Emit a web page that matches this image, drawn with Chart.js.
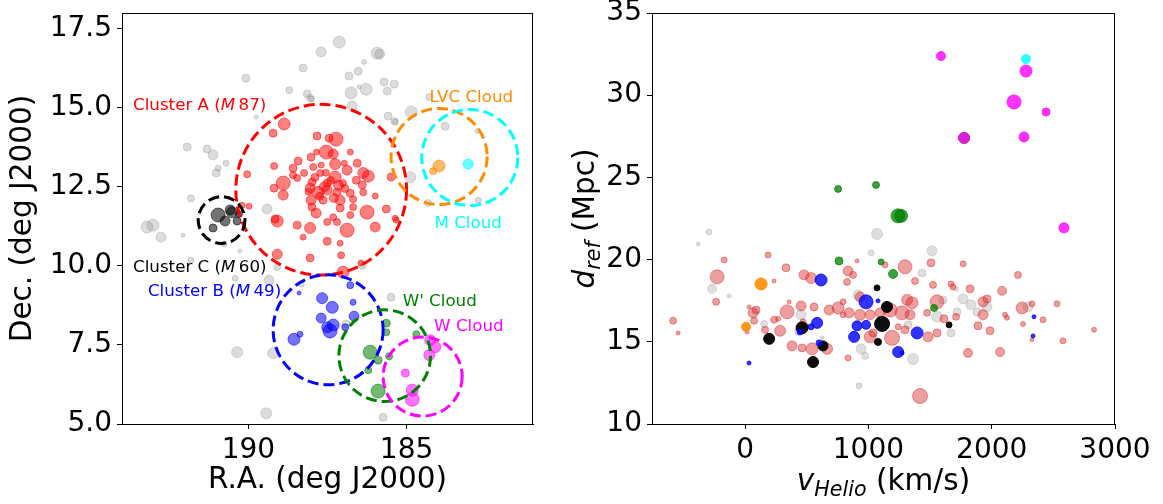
<!DOCTYPE html>
<html>
<head>
<meta charset="utf-8">
<script src="https://cdn.jsdelivr.net/npm/chart.js@4.4.1/dist/chart.umd.min.js"></script>
<style>
  html, body { margin: 0; padding: 0; background: #fff; }
  #wrap { position: relative; width: 1163px; height: 504px; }
  #sky { position: absolute; left: 0; top: 0; }
  #vel { position: absolute; left: 560px; top: 0; }
</style>
</head>
<body>
<div id="wrap">
  <canvas id="sky" width="560" height="504"></canvas>
  <canvas id="vel" width="603" height="504"></canvas>
</div>
<script>
// ---- sky positions: [R.A., Dec., marker size] ----
const bgSky = [
  [187.13,17.08,6],[187.70,16.77,5],[185.93,16.73,6],[185.85,16.70,5],[186.34,16.45,2.5],
  [188.27,16.26,4],[186.53,16.16,4],[186.82,16.01,4],[190.08,15.94,4],[185.71,15.82,4],
  [185.39,15.75,4],[186.28,15.59,6],[185.61,15.53,4],[186.50,15.66,2],[188.71,15.56,3.5],
  [186.75,15.47,6],[188.14,15.44,4],[188.05,15.31,3.5],[188.00,15.28,3],[184.28,15.34,3.5],
  [186.72,15.06,5],[189.76,14.71,2],[184.85,14.87,6],[185.58,14.74,4],[185.39,14.58,3.5],
  [185.35,14.55,3],[183.78,14.42,4],[182.76,14.27,2.5],[191.94,13.76,4],[191.31,13.70,4],
  [191.12,13.51,5],[190.71,13.25,3],[190.96,13.09,3],[191.02,12.94,4],[184.88,12.81,5.5],
  [191.82,12.14,3.5],[189.41,11.80,5],[184.32,11.99,3.5],[182.73,12.08,3],[193.21,11.23,6],
  [193.02,11.29,6],[192.77,10.91,5],[192.07,10.97,2],[191.82,10.18,3],[190.27,10.47,2],
  [190.42,9.61,3],[189.35,9.55,5],[189.09,9.96,3.5],[188.33,9.42,3],[186.40,10.02,4],
  [185.49,9.01,4],[190.36,7.27,5.5],[189.22,7.24,5.5],[186.91,8.16,4],[189.44,5.34,5.5],
  [185.74,5.21,4],[190.77,10.69,3]
];
const clusterASky = [
  [188.87,14.49,6],[189.22,14.20,4],[187.83,14.11,4],[187.45,14.04,4],[187.23,14.01,7],
  [187.54,13.60,7],[187.32,13.54,5],[186.78,13.60,3],[188.02,13.44,4],[188.43,13.32,4],
  [187.26,13.22,5.5],[186.97,13.25,3],[186.56,13.25,4],[189.19,13.16,3.5],[188.59,13.09,4],
  [187.95,13.13,3.5],[187.70,13.19,3],[186.88,13.03,5],[186.37,12.94,5.5],[186.21,12.84,6],
  [188.59,12.87,3.5],[188.24,12.94,3.5],[187.73,12.94,3.5],[187.26,12.81,6],[186.59,12.71,4],
  [190.04,12.90,3.5],[188.90,12.62,7],[188.46,12.78,3.5],[187.99,12.65,4],[187.51,12.62,4],
  [187.01,12.62,3.5],[186.40,12.56,4],[185.49,12.81,4],[189.19,12.46,4],[188.05,12.46,5],
  [187.80,12.33,6],[187.51,12.40,5],[187.20,12.33,4],[186.78,12.30,4],[186.37,12.33,3.5],
  [188.90,12.24,5],[185.99,12.21,3],[188.02,12.08,5],[187.64,12.08,4],[187.10,12.08,5],
  [186.69,12.11,3.5],[190.20,11.92,3],[187.99,11.86,4],[187.10,11.83,4],[186.69,11.86,3.5],
  [186.25,11.70,7],[185.64,11.80,4],[187.86,11.67,5],[187.32,11.54,3.5],[186.78,11.61,3.5],
  [189.16,11.48,4],[185.36,11.51,3],[189.09,11.42,6],[188.46,11.29,4],[188.05,11.20,5.5],
  [188.27,10.91,3],[187.51,11.39,3.5],[186.88,11.13,7],[187.20,11.39,3.5],[185.99,11.23,5],
  [187.51,10.78,4],[187.10,10.72,3],[189.09,10.37,5],[188.05,10.25,4],[187.07,10.34,3.5],
  [187.01,9.80,6],[186.44,10.09,3],[185.33,11.45,3],[189.98,11.89,3],
  [187.60,12.50,5],[187.40,12.70,4],[187.90,12.80,4],[187.15,12.55,5],[187.75,12.20,4],
  [187.30,12.15,4.5],[187.55,12.95,3.5],[188.10,12.35,3.5],[186.95,12.45,4],[187.85,13.60,3]
];
const clusterCSky = [
  [190.96,11.61,7],[190.52,11.70,5.5],[190.74,11.42,5],[191.12,11.20,4],[190.36,11.42,4],
  [190.30,11.64,3.5],[190.58,11.77,5]
];
const clusterBSky = [
  [188.40,9.14,2],[187.67,8.98,5.5],[187.35,8.69,6],[186.78,9.39,3.5],[186.69,8.85,3],
  [187.70,8.35,5],[187.32,8.13,6],[187.42,7.94,7],[187.51,8.06,5.5],[186.66,8.41,5],
  [186.94,8.06,3.5],[188.56,7.68,6],[188.37,7.84,3]
];
const wPrimeSky = [
  [185.64,8.19,4],[185.64,7.90,3.5],[186.15,7.27,7],[185.90,7.02,4],[185.55,7.14,3.5],
  [186.21,6.70,3.5],[185.90,6.04,7],[184.69,7.84,3.5]
];
const wCloudSky = [
  [184.25,7.65,5.5],[184.09,7.43,5.5],[184.28,7.18,5.5],[185.04,6.61,4],[184.82,6.07,6],
  [184.82,5.78,7]
];
const lvcSky = [[183.97,13.16,6],[184.16,13.00,3.5]];
const mCloudSky = [[183.05,13.22,5]];

// ---- velocity vs distance: [v_Helio km/s, d_ref Mpc, marker size] ----
const bgVel = [
  [1070,21.56,5.5],[-292,21.68,3],[-381,20.95,2],[1516,20.53,5],[1022,20.41,3],[1435,19.19,4],
  [-268,18.22,4.5],[-130,17.79,2],[1711,18.22,2.5],[916,17.85,5],[1605,17.55,4],[1768,17.61,5],
  [1832,17.25,5],[1962,17.12,5],[2295,17.12,5],[454,16.64,5],[1557,16.52,5.5],[1719,16.82,4],
  [1881,16.82,4],[154,16.09,3.5],[430,15.60,3.5],[1322,16.03,4],[1670,15.54,4],[624,15.24,2],
  [941,14.57,5],[973,14.14,3.5],[1362,13.96,5.5],[924,12.32,3]
];
const clusterAVel = [
  [-170,19.98,3],[186,20.28,3],[332,19.50,4],[-227,18.95,7],[908,19.92,2],[1135,19.68,3],
  [1297,19.56,7],[1508,19.80,4],[1768,19.74,3],[835,19.31,5],[876,19.07,3.5],[478,19.07,5],
  [535,18.88,5.5],[235,18.70,2],[827,18.64,3.5],[1378,18.70,3.5],[1524,18.46,3.5],[1670,18.52,3],
  [2213,19.07,3.5],[1686,18.34,3],[1824,18.22,4],[2084,18.10,4.5],[-235,17.43,3.5],[357,17.43,2],
  [795,17.43,3],[932,17.73,5],[1314,17.55,5.5],[1354,17.37,6],[1557,17.43,7],[1930,17.43,5],
  [1962,17.61,4],[2327,17.31,3],[2530,17.31,3],[2246,17.06,6],[32,17.12,2],[89,16.93,4],
  [65,16.76,5],[341,16.82,7],[454,17.18,5],[559,17.12,4],[681,16.93,5],[754,17.06,6],
  [843,16.76,5],[795,16.64,3],[1176,16.93,7],[1095,16.76,5],[1014,16.64,5],[932,16.64,5.5],
  [1273,16.76,7],[1338,16.64,5],[1476,16.76,3.5],[1930,16.64,5],[2108,16.64,2.5],[2124,16.46,2.5],
  [2416,16.34,3],[-584,16.28,3.5],[-543,15.54,2],[73,16.28,3.5],[235,16.34,3.5],[268,16.40,2.5],
  [470,16.22,3],[486,15.97,3],[284,15.67,5.5],[162,15.73,3.5],[16,15.60,2],[1241,15.91,3],
  [1297,15.73,4],[1613,16.40,4],[1711,16.52,3.5],[1557,15.54,4],[1484,15.30,5],[1889,15.97,4],
  [1986,15.67,4],[2254,16.09,2.5],[2327,15.12,2],[2578,15.06,3],[2830,15.73,2.5],[1014,15.30,6],
  [1038,15.54,4],[1192,15.24,7.5],[381,14.75,5],[462,14.63,4],[543,14.57,6],[665,14.57,5.5],
  [835,14.02,3],[1808,14.32,4.5],[2068,14.38,4.5],[1419,11.70,7.5]
];
const clusterCVel = [
  [1070,18.28,3],[1151,17.12,5.5],[1111,16.09,7.5],[1078,14.99,3.5],[632,14.75,5],
  [462,15.85,6],[195,15.18,5.5],[551,13.77,5.5],[1654,16.03,3]
];
const clusterBVel = [
  [616,18.76,6],[981,17.43,7],[1078,17.49,2],[584,16.15,5.5],[535,15.91,3],[446,15.60,3],
  [908,15.97,5],[981,16.03,4.5],[1395,15.54,6],[884,15.30,5.5],[1241,14.38,5.5],[1273,14.32,2],
  [600,14.93,3],[32,13.71,2],[2343,16.52,2],[2335,15.36,2]
];
const wPrimeVel = [
  [754,24.30,3.5],[1062,24.54,3.5],[1240,22.66,7],[1265,22.66,6.5],[762,19.92,4],
  [1103,19.86,3],[1200,19.13,4.5],[1532,17.06,3.5],[1776,27.40,5.5]
];
const wCloudVel = [
  [1589,32.38,4.5],[2278,31.47,6],[2181,29.59,7],[2441,28.98,4],[1776,27.40,5.5],
  [2262,27.46,5],[2586,21.93,5]
];
const lvcVel = [[130,18.52,6],[8,15.91,4.5]];
const mCloudVel = [[2278,32.20,4.5]];

// ---- region circles: [R.A., Dec., radius deg] and their labels ----
const regionCircles = [
  [187.70,12.41,2.70],[183.97,13.46,1.52],[183.00,13.43,1.52],[190.85,11.45,0.74],
  [187.48,7.98,1.74],[185.69,7.16,1.45],[184.49,6.50,1.25]
];
const regionLabels = [
  ['Cluster A (', 'M', '\u200987)'], ['LVC Cloud'], ['M Cloud'], ['Cluster C (', 'M', '\u200960)'],
  ['Cluster B (', 'M', '\u200949)'], ["W' Cloud"], ['W Cloud']
];
const labelAnchors = [
  [193.65,15.06,'left'],[182.95,15.31,'center'],[183.05,11.35,'center'],[193.65,9.93,'left'],
  [193.18,9.17,'left'],[183.95,8.88,'center'],[183.03,8.09,'center']
];

// ---- tick labels ----
const raTicks = [190, 185];
const decTicks = [5, 7.5, 10, 12.5, 15, 17.5];
const vTicks = [0, 1000, 2000, 3000];
const dTicks = [10, 15, 20, 25, 30, 35];

const FAMILY = 'DejaVu Sans';
const regionColors = ['#ff0000', '#ff8c00', '#00ffff', '#000000', '#0000ff', '#008000', '#ff00ff'];

const groups = [
  { sky: bgSky,       vel: bgVel,       skyColor: 'rgba(128,128,128,0.28)', velColor: 'rgba(128,128,128,0.25)', order: 10 },
  { sky: clusterASky, vel: clusterAVel, skyColor: 'rgba(255,0,0,0.5)',      velColor: 'rgba(214,39,40,0.45)',   order: 9 },
  { sky: clusterCSky, vel: clusterCVel, skyColor: 'rgba(0,0,0,0.55)',       velColor: 'rgba(0,0,0,0.95)',       order: 8 },
  { sky: clusterBSky, vel: clusterBVel, skyColor: 'rgba(0,0,255,0.55)',     velColor: 'rgba(0,0,255,0.8)',      order: 7 },
  { sky: wPrimeSky,   vel: wPrimeVel,   skyColor: 'rgba(0,128,0,0.55)',     velColor: 'rgba(0,128,0,0.75)',     order: 6 },
  { sky: wCloudSky,   vel: wCloudVel,   skyColor: 'rgba(255,0,255,0.55)',   velColor: 'rgba(255,0,255,0.8)',    order: 5 },
  { sky: lvcSky,      vel: lvcVel,      skyColor: 'rgba(255,140,0,0.6)',    velColor: 'rgba(255,140,0,0.9)',    order: 4 },
  { sky: mCloudSky,   vel: mCloudVel,   skyColor: 'rgba(0,255,255,0.6)',    velColor: 'rgba(0,255,255,0.8)',    order: 3 }
];

const toPts = arr => arr.map(([x, y, s]) => ({ x, y, r: s }));

function makeSets(key, colorKey) {
  return groups.map(g => ({
    data: toPts(g[key]),
    backgroundColor: g[colorKey],
    borderColor: g[colorKey],
    borderWidth: 1,
    order: g.order,
    clip: 0
  }));
}

// draws text made of plain / italic / subscript pieces
function drawRich(ctx, parts, size, x, y, rotate) {
  const fontOf = p => (p.it ? 'oblique ' : '') + (p.sub ? size * 0.7 : size) + 'px "' + FAMILY + '"';
  ctx.save();
  ctx.translate(x, y);
  if (rotate) ctx.rotate(-Math.PI / 2);
  ctx.textBaseline = 'alphabetic';
  ctx.textAlign = 'left';
  const widths = parts.map(p => { ctx.font = fontOf(p); return ctx.measureText(p.t).width; });
  let cx = -widths.reduce((a, b) => a + b, 0) / 2;
  const base = size * 0.36;
  parts.forEach((p, i) => {
    ctx.font = fontOf(p);
    ctx.fillText(p.t, cx, base + (p.sub ? size * 0.22 : 0));
    cx += widths[i];
  });
  ctx.restore();
}

const frame = {
  id: 'frame',
  afterDraw(chart) {
    const { ctx, chartArea: a } = chart;
    ctx.save();
    ctx.strokeStyle = '#000';
    ctx.lineWidth = 1;
    ctx.strokeRect(a.left + 0.5, a.top + 0.5, a.right - a.left - 1, a.bottom - a.top);
    ctx.restore();
  }
};

const regions = {
  id: 'regions',
  afterDatasetsDraw(chart) {
    const { ctx, scales: { x, y }, chartArea: a } = chart;
    ctx.save();
    ctx.beginPath();
    ctx.rect(a.left, a.top, a.right - a.left, a.bottom - a.top);
    ctx.clip();
    ctx.lineWidth = 3;
    ctx.setLineDash([11, 5]);
    regionCircles.forEach(([ra, dec, r], i) => {
      const cx = x.getPixelForValue(ra), cy = y.getPixelForValue(dec);
      const rx = Math.abs(x.getPixelForValue(ra + r) - cx);
      const ry = Math.abs(y.getPixelForValue(dec + r) - cy);
      ctx.strokeStyle = regionColors[i];
      ctx.beginPath();
      ctx.ellipse(cx, cy, rx, ry, 0, 0, Math.PI * 2);
      ctx.stroke();
    });
    ctx.restore();

    ctx.save();
    ctx.textBaseline = 'middle';
    regionLabels.forEach((parts, i) => {
      const [ra, dec, align] = labelAnchors[i];
      const fonts = parts.map((_, j) => (j === 1 ? 'oblique ' : '') + '16.7px "' + FAMILY + '"');
      const widths = parts.map((t, j) => { ctx.font = fonts[j]; return ctx.measureText(t).width; });
      const total = widths.reduce((p, q) => p + q, 0);
      let px = x.getPixelForValue(ra) - (align === 'center' ? total / 2 : 0);
      const py = y.getPixelForValue(dec);
      ctx.fillStyle = regionColors[i];
      parts.forEach((t, j) => { ctx.font = fonts[j]; ctx.fillText(t, px, py); px += widths[j]; });
    });
    ctx.restore();
  }
};

const velTitles = {
  id: 'velTitles',
  afterDraw(chart) {
    const { ctx, chartArea: a } = chart;
    ctx.save();
    ctx.fillStyle = '#000';
    drawRich(ctx, [{ t: 'v', it: true }, { t: 'Helio', it: true, sub: true }, { t: ' (km/s)' }],
      29.5, (a.left + a.right) / 2, 479, false);
    drawRich(ctx, [{ t: 'd', it: true }, { t: 'ref', it: true, sub: true }, { t: ' (Mpc)' }],
      29.5, 23, (a.top + a.bottom) / 2, true);
    ctx.restore();
  }
};

// fixed axis boxes so both plot areas sit where they should
const fixHeight = h => s => { s.height = h; s.paddingLeft = 0; s.paddingRight = 0; };
const fixWidth = w => s => { s.width = w; s.paddingTop = 0; s.paddingBottom = 0; };

function axis(extra) {
  return Object.assign({
    type: 'linear',
    grid: { drawOnChartArea: false, drawTicks: true, tickLength: 5, color: '#000', tickWidth: 1 },
    border: { display: true, color: '#000', width: 1 },
    ticks: { color: '#000', font: { size: 28, family: FAMILY }, padding: 5, autoSkip: false,
             maxRotation: 0, callback: v => String(v) }
  }, extra);
}

const common = {
  responsive: false,
  animation: false,
  devicePixelRatio: 1,
  events: [],
  plugins: { legend: { display: false }, tooltip: { enabled: false } }
};

new Chart(document.getElementById('sky'), {
  type: 'bubble',
  data: { datasets: makeSets('sky', 'skyColor') },
  options: Object.assign({}, common, {
    layout: { autoPadding: false, padding: { top: 13, right: 27, left: 0, bottom: 0 } },
    scales: {
      x: axis({
        reverse: true, min: 181, max: 194,
        afterBuildTicks: s => { s.ticks = raTicks.map(v => ({ value: v })); },
        afterFit: fixHeight(80),
        title: { display: true, text: 'R.A. (deg J2000)', color: '#000',
                 font: { size: 29.5, family: FAMILY }, padding: { top: 0, bottom: 6 } }
      }),
      y: axis({
        min: 5, max: 18,
        afterBuildTicks: s => { s.ticks = decTicks.map(v => ({ value: v })); },
        afterFit: fixWidth(122),
        ticks: { color: '#000', font: { size: 28, family: FAMILY }, padding: 5, autoSkip: false,
                 callback: v => Number(v).toFixed(1) },
        title: { display: true, text: 'Dec. (deg J2000)', color: '#000',
                 font: { size: 29.5, family: FAMILY }, padding: { top: 6, bottom: 0 } }
      })
    }
  }),
  plugins: [regions, frame]
});

new Chart(document.getElementById('vel'), {
  type: 'bubble',
  data: { datasets: makeSets('vel', 'velColor') },
  options: Object.assign({}, common, {
    layout: { autoPadding: false, padding: { top: 13, right: 48, left: 0, bottom: 0 } },
    scales: {
      x: axis({
        min: -755, max: 3000,
        afterBuildTicks: s => { s.ticks = vTicks.map(v => ({ value: v })); },
        afterFit: fixHeight(80)
      }),
      y: axis({
        min: 10, max: 35,
        afterBuildTicks: s => { s.ticks = dTicks.map(v => ({ value: v })); },
        afterFit: fixWidth(92)
      })
    }
  }),
  plugins: [frame, velTitles]
});
</script>
</body>
</html>
